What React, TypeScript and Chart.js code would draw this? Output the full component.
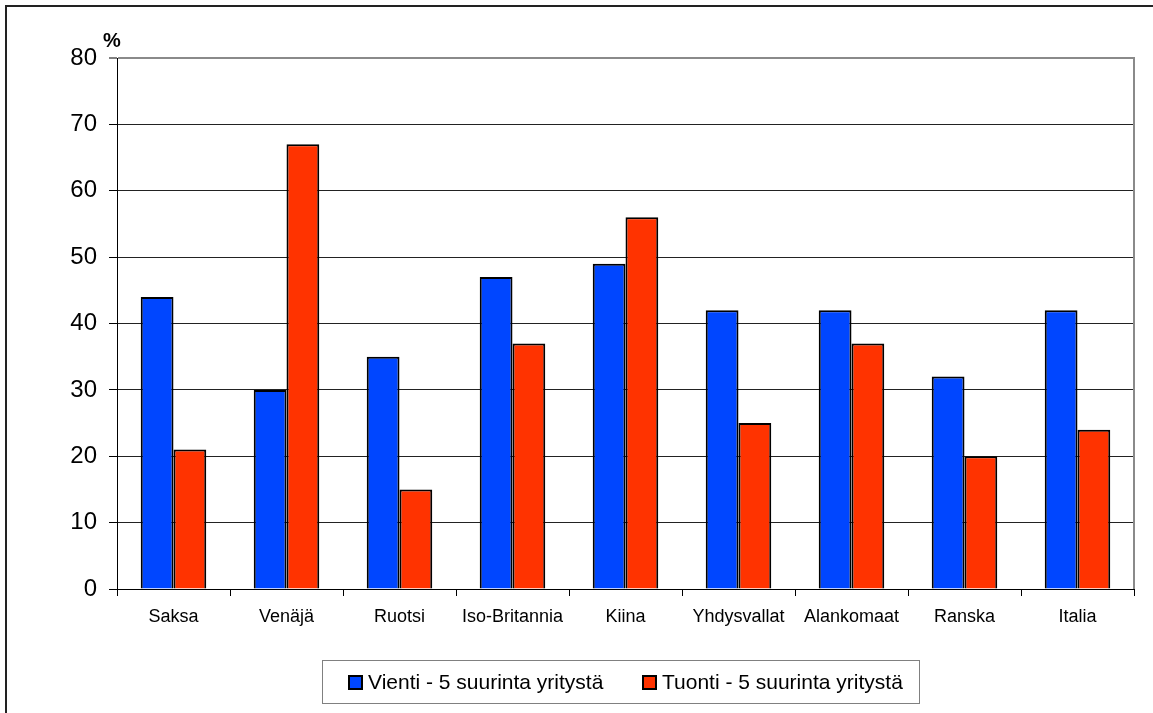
import { useEffect, useRef } from "react";
import { Chart, registerables } from "chart.js";

Chart.register(...registerables);

const categories = [
  "Saksa",
  "Venäjä",
  "Ruotsi",
  "Iso-Britannia",
  "Kiina",
  "Yhdysvallat",
  "Alankomaat",
  "Ranska",
  "Italia",
];
const vienti = [44, 30, 35, 47, 49, 42, 42, 32, 42];
const tuonti = [21, 67, 15, 37, 56, 25, 37, 20, 24];
const seriesLabels = ["Vienti - 5 suurinta yritystä", "Tuonti - 5 suurinta yritystä"];
const seriesColors = ["#0046FF", "#FF3300"];
const yMin = 0;
const yMax = 80;
const yStep = 10;
const yUnit = "%";

const W = 1153;
const H = 713;

const decorPlugin = {
  id: "decor",
  afterDraw(chart: any) {
    const ctx = chart.ctx as CanvasRenderingContext2D;
    const ca = chart.chartArea;
    ctx.save();
    // outer frame
    ctx.strokeStyle = "#222";
    ctx.lineWidth = 2;
    ctx.beginPath();
    ctx.moveTo(6, H + 5);
    ctx.lineTo(6, 6);
    ctx.lineTo(W + 5, 6);
    ctx.stroke();
    // right border of plot area
    ctx.strokeStyle = "#8a8a8a";
    ctx.lineWidth = 2;
    ctx.beginPath();
    ctx.moveTo(ca.right, ca.top - 1);
    ctx.lineTo(ca.right, ca.bottom);
    ctx.stroke();
    // unit label
    ctx.fillStyle = "#000";
    ctx.font = "bold 20px Arial, 'Liberation Sans', sans-serif";
    ctx.textAlign = "left";
    ctx.textBaseline = "alphabetic";
    ctx.fillText(yUnit, 103, 47);
    // legend box
    ctx.strokeStyle = "#808080";
    ctx.lineWidth = 1;
    ctx.strokeRect(322.5, 660.5, 597, 43);
    const items = [
      { sx: 349, tx: 368 },
      { sx: 643, tx: 662 },
    ];
    ctx.font = "21px Arial, 'Liberation Sans', sans-serif";
    ctx.textBaseline = "middle";
    items.forEach((it, i) => {
      ctx.fillStyle = seriesColors[i];
      ctx.fillRect(it.sx, 676, 13, 13);
      ctx.strokeStyle = "#000";
      ctx.lineWidth = 2;
      ctx.strokeRect(it.sx, 676, 13, 13);
      ctx.fillStyle = "#000";
      ctx.fillText(seriesLabels[i], it.tx, 683);
    });
    ctx.restore();
  },
};

export default function App() {
  const ref = useRef<HTMLCanvasElement | null>(null);

  useEffect(() => {
    document.body.style.margin = "0";
    const canvas = ref.current;
    if (!canvas) return;
    const chart = new Chart(canvas, {
      type: "bar",
      data: {
        labels: categories,
        datasets: [
          {
            label: seriesLabels[0],
            data: vienti,
            backgroundColor: seriesColors[0],
            borderColor: "#000",
            borderWidth: 2,
            categoryPercentage: 0.58,
            barPercentage: 1.0,
          },
          {
            label: seriesLabels[1],
            data: tuonti,
            backgroundColor: seriesColors[1],
            borderColor: "#000",
            borderWidth: 2,
            categoryPercentage: 0.58,
            barPercentage: 1.0,
          },
        ],
      },
      options: {
        responsive: false,
        animation: false,
        devicePixelRatio: 1,
        layout: { padding: { top: 58, right: 19, left: 0, bottom: 0 } },
        plugins: {
          legend: { display: false },
          tooltip: { enabled: false },
          title: { display: false },
        },
        scales: {
          x: {
            afterFit: (s: any) => {
              s.height = 124;
            },
            grid: {
              display: true,
              drawOnChartArea: false,
              offset: true,
              tickLength: 7,
              color: "#000",
              tickColor: "#000",
            },
            border: { display: true, color: "#000", width: 1 },
            ticks: {
              color: "#000",
              font: { family: "Arial, 'Liberation Sans', sans-serif", size: 18 },
              padding: 10,
              maxRotation: 0,
              autoSkip: false,
            },
          },
          y: {
            min: yMin,
            max: yMax,
            afterFit: (s: any) => {
              s.width = 117;
            },
            grid: {
              color: (c: any) => (c.tick && c.tick.value === yMax ? "#8a8a8a" : "#222"),
              lineWidth: (c: any) => (c.tick && c.tick.value === yMax ? 2 : 1),
              tickLength: 8,
              tickColor: "#000",
              tickWidth: 1,
            },
            border: { display: true, color: "#000", width: 1 },
            ticks: {
              stepSize: yStep,
              color: "#000",
              font: { family: "Arial, 'Liberation Sans', sans-serif", size: 24 },
              padding: 12,
            },
          },
        },
      },
      plugins: [decorPlugin],
    });
    return () => chart.destroy();
  }, []);

  return (
    <div style={{ position: "absolute", left: 0, top: 0, width: W, height: H, background: "#fff" }}>
      <canvas ref={ref} width={W} height={H} style={{ display: "block" }} />
    </div>
  );
}
